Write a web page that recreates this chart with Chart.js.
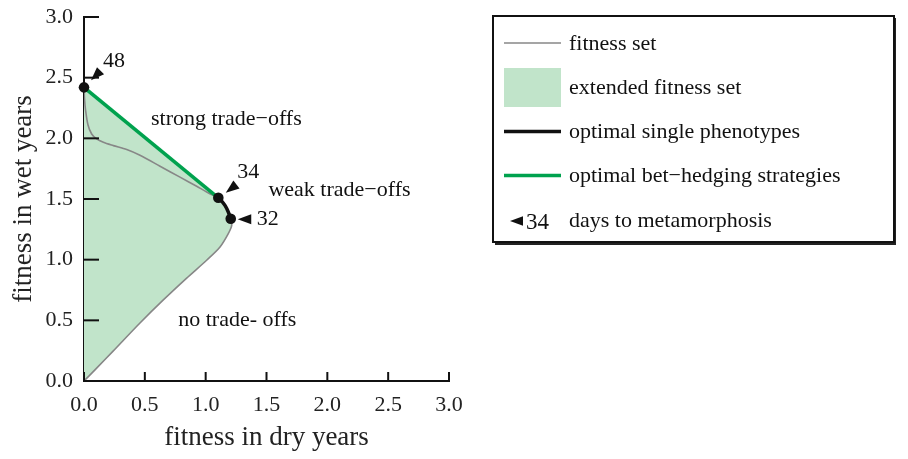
<!DOCTYPE html>
<html>
<head>
<meta charset="utf-8">
<script src="https://cdn.jsdelivr.net/npm/chart.js@4.4.1/dist/chart.umd.min.js"></script>
<style>
  html, body { margin: 0; padding: 0; background: #ffffff; }
  #wrap { width: 908px; height: 459px; position: relative; }
  #c { display: block; }
</style>
</head>
<body>
<div id="wrap"><canvas id="c" width="908" height="459"></canvas></div>
<script>
// Fitness set, upper branch: from 48 days to metamorphosis down to 34 days
const upperDry = [0.000, 0.004, 0.012, 0.033, 0.063, 0.104, 0.159, 0.241, 0.351, 0.460, 0.625, 0.789, 0.926, 1.008, 1.104];
const upperWet = [2.420, 2.330, 2.240, 2.110, 2.036, 1.995, 1.967, 1.940, 1.907, 1.860, 1.770, 1.680, 1.605, 1.558, 1.510];

// Optimal single phenotypes: 34 to 32 days
const singleDry = [1.104, 1.130, 1.160, 1.185, 1.206];
const singleWet = [1.510, 1.485, 1.445, 1.395, 1.337];

// Fitness set, lower branch: from 32 days back to the origin
const lowerDry = [1.206, 1.214, 1.186, 1.118, 1.008, 0.844, 0.652, 0.460, 0.241, 0.104, 0.000];
const lowerWet = [1.337, 1.282, 1.214, 1.104, 0.995, 0.848, 0.668, 0.478, 0.248, 0.106, 0.000];

// Optimal bet-hedging strategies: mixtures of 48 and 34 days
const hedgeDry = [0.00, 1.104];
const hedgeWet = [2.42, 1.51];

// Labelled phenotypes (days to metamorphosis)
const dayLabels = ['48', '34', '32'];
const dayDry = [0.00, 1.104, 1.206];
const dayWet = [2.42, 1.51, 1.337];

// Axis ticks
const tickValues = [0.0, 0.5, 1.0, 1.5, 2.0, 2.5, 3.0];

// Region names
const regionLabels = ['strong trade\u2212offs', 'weak trade\u2212offs', 'no trade- offs'];
const regionDry = [1.17, 2.10, 1.26];
const regionWet = [2.16, 1.57, 0.50];

// Legend entries
const legendLabels = ['fitness set', 'extended fitness set', 'optimal single phenotypes',
                      'optimal bet\u2212hedging strategies', 'days to metamorphosis'];

const zip = (xs, ys) => xs.map((x, i) => ({ x: x, y: ys[i] }));

const SERIF = '"Liberation Serif", "Times New Roman", serif';
const GRAY = '#878787';
const FILL = '#c1e4ca';
const GREEN = '#00a24e';

// dataset indices
const DS_DAYS = 0, DS_SINGLE = 1, DS_HEDGE = 2, DS_UPPER = 3, DS_LOWER = 4;

// Pointer styling for the day labels: tip offset from the point, direction away from it, text offset
const pointerStyle = [
  { tipDx: 7.0, tipDy: -7.0, ang: -45, textDx: 19, textDy: -26 },
  { tipDx: 7.5, tipDy: -5.0, ang: -38, textDx: 19, textDy: -26 },
  { tipDx: 7.0, tipDy: 0.5, ang: 0, textDx: 26, textDy: 0 }
];

function drawPointer(ctx, tx, ty, angDeg, len, half) {
  const a = angDeg * Math.PI / 180;
  const bx = tx + len * Math.cos(a), by = ty + len * Math.sin(a);
  const nx = -Math.sin(a) * half, ny = Math.cos(a) * half;
  ctx.beginPath();
  ctx.moveTo(tx, ty);
  ctx.lineTo(bx + nx, by + ny);
  ctx.lineTo(bx - nx, by - ny);
  ctx.closePath();
  ctx.fill();
}

// Follow a line dataset's own curve (its point elements and bezier control points)
function traceLine(ctx, pts, curved) {
  for (let i = 1; i < pts.length; i++) {
    const p = pts[i - 1], q = pts[i];
    if (curved) ctx.bezierCurveTo(p.cp2x, p.cp2y, q.cp1x, q.cp1y, q.x, q.y);
    else ctx.lineTo(q.x, q.y);
  }
}

// Extended fitness set: area enclosed by the bet-hedging line, the single-phenotype arc,
// the lower fitness-set branch and the wet-year axis
const extendedSet = {
  id: 'extendedSet',
  beforeDatasetsDraw(chart) {
    const ctx = chart.ctx;
    const hedge = chart.getDatasetMeta(DS_HEDGE).data;
    const single = chart.getDatasetMeta(DS_SINGLE).data;
    const lower = chart.getDatasetMeta(DS_LOWER).data;
    ctx.save();
    ctx.beginPath();
    ctx.moveTo(hedge[0].x, hedge[0].y);
    traceLine(ctx, hedge, false);
    traceLine(ctx, single, true);
    traceLine(ctx, lower, true);
    ctx.closePath();
    ctx.fillStyle = FILL;
    ctx.fill();
    ctx.restore();
  }
};

const decorations = {
  id: 'decorations',
  afterDraw(chart) {
    const ctx = chart.ctx;
    const xs = chart.scales.x, ys = chart.scales.y;
    const area = chart.chartArea;
    ctx.save();

    // inward tick marks
    ctx.strokeStyle = '#111';
    ctx.lineWidth = 2;
    tickValues.forEach(v => {
      const px = xs.getPixelForValue(v);
      ctx.beginPath(); ctx.moveTo(px, area.bottom); ctx.lineTo(px, area.bottom - 9); ctx.stroke();
      const py = ys.getPixelForValue(v);
      ctx.beginPath(); ctx.moveTo(area.left, py); ctx.lineTo(area.left + 15, py); ctx.stroke();
    });

    // pointers and day labels
    ctx.fillStyle = '#111';
    ctx.font = '22px ' + SERIF;
    ctx.textAlign = 'left';
    ctx.textBaseline = 'middle';
    dayLabels.forEach((lab, i) => {
      const px = xs.getPixelForValue(dayDry[i]);
      const py = ys.getPixelForValue(dayWet[i]);
      const s = pointerStyle[i];
      drawPointer(ctx, px + s.tipDx, py + s.tipDy, s.ang, 13.5, 5);
      ctx.fillText(lab, px + s.textDx, py + s.textDy);
    });

    // region names
    ctx.textAlign = 'center';
    regionLabels.forEach((lab, i) => {
      ctx.fillText(lab, xs.getPixelForValue(regionDry[i]), ys.getPixelForValue(regionWet[i]));
    });

    // legend box
    const L = 493, T = 16, R = 894, B = 242;
    ctx.fillStyle = '#222';
    ctx.fillRect(L + 2, B, R - L, 3);
    ctx.fillRect(R, T + 2, 2, B - T);
    ctx.strokeStyle = '#111';
    ctx.lineWidth = 2;
    ctx.strokeRect(L, T, R - L, B - T);

    const sx0 = 504, sx1 = 561, tx = 569;
    const rowY = [43, 87.5, 131.5, 175.5, 220];
    ctx.lineCap = 'butt';
    // fitness set
    ctx.strokeStyle = GRAY; ctx.lineWidth = 1.6;
    ctx.beginPath(); ctx.moveTo(sx0, rowY[0]); ctx.lineTo(sx1, rowY[0]); ctx.stroke();
    // extended fitness set
    ctx.fillStyle = FILL;
    ctx.fillRect(sx0, rowY[1] - 19.5, sx1 - sx0, 39);
    // optimal single phenotypes
    ctx.strokeStyle = '#111'; ctx.lineWidth = 3.5;
    ctx.beginPath(); ctx.moveTo(sx0, rowY[2]); ctx.lineTo(sx1, rowY[2]); ctx.stroke();
    // optimal bet-hedging strategies
    ctx.strokeStyle = GREEN; ctx.lineWidth = 3.5;
    ctx.beginPath(); ctx.moveTo(sx0, rowY[3]); ctx.lineTo(sx1, rowY[3]); ctx.stroke();
    // days to metamorphosis
    ctx.fillStyle = '#111';
    drawPointer(ctx, 510, rowY[4] + 1, 0, 13, 4.8);
    ctx.textAlign = 'left';
    ctx.font = '23px ' + SERIF;
    ctx.fillText('34', 526, rowY[4] + 3);
    ctx.font = '22px ' + SERIF;

    legendLabels.forEach((lab, i) => ctx.fillText(lab, tx, rowY[i] + 1));
    ctx.restore();
  }
};

const tickFmt = v => Number(v).toFixed(1);

new Chart(document.getElementById('c'), {
  type: 'scatter',
  data: {
    datasets: [
      { label: 'days', data: zip(dayDry, dayWet), showLine: false, pointRadius: 5.3,
        pointBackgroundColor: '#111', pointBorderWidth: 0, clip: false, order: 0 },
      { label: 'optimal single phenotypes', data: zip(singleDry, singleWet), showLine: true,
        borderColor: '#111', borderWidth: 3.5, pointRadius: 0, tension: 0.4, order: 1 },
      { label: 'optimal bet-hedging strategies', data: zip(hedgeDry, hedgeWet), showLine: true,
        borderColor: GREEN, borderWidth: 3.5, pointRadius: 0, tension: 0, order: 2 },
      { label: 'fitness set upper', data: zip(upperDry, upperWet), showLine: true,
        borderColor: GRAY, borderWidth: 1.6, pointRadius: 0, tension: 0.3, order: 3 },
      { label: 'fitness set lower', data: zip(lowerDry, lowerWet), showLine: true,
        borderColor: GRAY, borderWidth: 1.6, pointRadius: 0, tension: 0.3, order: 3 }
    ]
  },
  options: {
    responsive: false,
    animation: false,
    devicePixelRatio: 1,
    layout: { autoPadding: false, padding: { left: 0, top: 17, right: 459, bottom: 0 } },
    plugins: { legend: { display: false }, tooltip: { enabled: false } },
    scales: {
      x: {
        type: 'linear', min: 0, max: 3,
        afterBuildTicks: s => { s.ticks = tickValues.map(v => ({ value: v })); },
        afterFit: s => { s.height = 78; },
        grid: { display: false },
        border: { display: true, color: '#111', width: 2 },
        ticks: { color: '#222', padding: 3, font: { family: SERIF, size: 22 }, callback: tickFmt },
        title: { display: true, text: 'fitness in dry years', color: '#222',
                 font: { family: SERIF, size: 27 }, padding: { top: 0, bottom: 5 } }
      },
      y: {
        type: 'linear', min: 0, max: 3,
        afterBuildTicks: s => { s.ticks = tickValues.map(v => ({ value: v })); },
        afterFit: s => { s.width = 84; },
        grid: { display: false },
        border: { display: true, color: '#111', width: 2 },
        ticks: { color: '#222', padding: 3, font: { family: SERIF, size: 22 }, callback: tickFmt },
        title: { display: true, text: 'fitness in wet years', color: '#222',
                 font: { family: SERIF, size: 27 }, padding: { top: 8, bottom: 0 } }
      }
    }
  },
  plugins: [extendedSet, decorations]
});
</script>
</body>
</html>
